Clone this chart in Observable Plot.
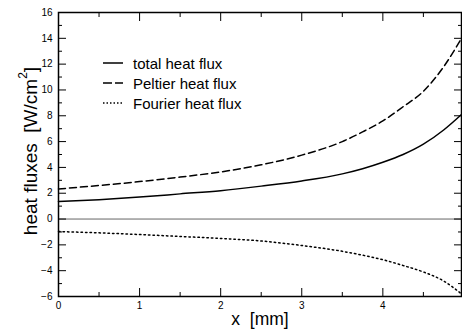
<!DOCTYPE html>
<html>
<head>
<meta charset="utf-8">
<script src="https://cdn.jsdelivr.net/npm/d3@7"></script>
<script src="https://cdn.jsdelivr.net/npm/@observablehq/plot@0.6"></script>
<style>
  html, body { margin: 0; padding: 0; background: #fff; }
  #wrap { position: relative; width: 462px; height: 333px; overflow: hidden; font-family: "Liberation Sans", Arial, Helvetica, sans-serif; }
  #legend { position: absolute; left: 103px; top: 53.3px; font-size: 15px; color: #000; }
  #legend .row { display: flex; align-items: center; height: 20px; }
  #legend svg { width: 20px; height: 10px; margin-right: 10px; }
</style>
</head>
<body>
<div id="wrap"><div id="legend"></div></div>
<script>
// x positions (mm)
const xs = [0, 0.5, 1, 1.5, 2, 2.5, 3, 3.5, 3.75, 4, 4.25, 4.5, 4.75, 4.97];
// series values (W/cm^2)
const totalFlux   = [1.35, 1.5, 1.7, 1.95, 2.2, 2.55, 2.95, 3.5, 3.9, 4.4, 5.0, 5.8, 6.9, 8.1];
const peltierFlux = [2.33, 2.6, 2.9, 3.25, 3.65, 4.2, 4.95, 6.0, 6.75, 7.6, 8.7, 9.9, 11.8, 14.0];
const fourierFlux = [-0.97, -1.07, -1.2, -1.35, -1.5, -1.7, -2.05, -2.5, -2.8, -3.15, -3.6, -4.1, -4.8, -5.8];
const seriesNames = ["total heat flux", "Peltier heat flux", "Fourier heat flux"];
// tick labels
const yMajor = [-6, -4, -2, 0, 2, 4, 6, 8, 10, 12, 14, 16];
const yMinor = [-5, -3, -1, 1, 3, 5, 7, 9, 11, 13, 15];
const xMajor = [0, 1, 2, 3, 4];
const xMinor = [0.5, 1.5, 2.5, 3.5, 4.5];

const dashes = ["none", "7,4", "1.5,3"];
const legendDashes = ["none", "9,3", "1.5,2"];
const seriesVals = [totalFlux, peltierFlux, fourierFlux];
const data = seriesNames.flatMap((name, i) => xs.map((x, j) => ({x, y: seriesVals[i][j], name})));

const nb = "\u00a0";
const marks = [
  Plot.ruleY([0], {stroke: "#666", strokeWidth: 1}),
  ...seriesNames.map((name, i) => Plot.line(data.filter(d => d.name === name), {
    x: "x", y: "y", curve: "monotone-x", stroke: "#000", strokeWidth: 1.5,
    strokeDasharray: dashes[i] === "none" ? null : dashes[i]
  })),
  Plot.frame({stroke: "#000", strokeWidth: 1.5}),
];
for (const anchor of ["left", "right"]) {
  marks.push(Plot.axisY(yMajor, {anchor, tickSize: -8, tickFormat: () => "", label: null}));
  marks.push(Plot.axisY(yMinor, {anchor, tickSize: -4, tickFormat: () => "", label: null}));
}
for (const anchor of ["top", "bottom"]) {
  marks.push(Plot.axisX(xMajor, {anchor, tickSize: -8, tickFormat: () => "", label: null}));
  marks.push(Plot.axisX(xMinor, {anchor, tickSize: -4, tickFormat: () => "", label: null}));
}
marks.push(Plot.axisY(yMajor, {anchor: "left", tickSize: 0, tickPadding: 6, fontSize: 10, label: null}));
marks.push(Plot.axisX(xMajor, {anchor: "bottom", tickSize: 0, tickPadding: 5, fontSize: 10, label: null}));
marks.push(Plot.text([`heat fluxes${nb}${nb}[W/cm2]`], {frameAnchor: "left", textAnchor: "middle", dx: -27.5, dy: -3.5, rotate: -90, fontSize: 19, fill: "#000", className: "ylab"}));
marks.push(Plot.text([`x${nb}${nb}[mm]`], {frameAnchor: "bottom", dy: 28, fontSize: 17.5, fill: "#000"}));

const chart = Plot.plot({
  width: 462, height: 333,
  marginLeft: 58, marginRight: 1, marginTop: 12, marginBottom: 37,
  style: {fontFamily: "'Liberation Sans', Arial, Helvetica, sans-serif", background: "#fff", color: "#000"},
  x: {domain: [0, 4.97]},
  y: {domain: [-6, 16]},
  marks
});
const wrap = document.getElementById("wrap");
wrap.insertBefore(chart, wrap.firstChild);

// superscript for the unit in the y label
const yl = chart.querySelector(".ylab text");
if (yl) {
  const ns = "http://www.w3.org/2000/svg";
  yl.textContent = "";
  const t1 = document.createElementNS(ns, "tspan"); t1.textContent = `heat fluxes${nb}${nb}[W/cm`;
  const t2 = document.createElementNS(ns, "tspan"); t2.textContent = "2"; t2.setAttribute("font-size", "12"); t2.setAttribute("dy", "-10");
  const t3 = document.createElementNS(ns, "tspan"); t3.textContent = "]"; t3.setAttribute("dy", "10");
  yl.append(t1, t2, t3);
}

const legend = document.getElementById("legend");
seriesNames.forEach((name, i) => {
  const row = document.createElement("div");
  row.className = "row";
  const dash = legendDashes[i] === "none" ? "" : `stroke-dasharray="${legendDashes[i]}"`;
  row.innerHTML = `<svg viewBox="0 0 20 10"><line x1="0" y1="5" x2="20" y2="5" stroke="#000" stroke-width="1.5" ${dash}/></svg><span>${name}</span>`;
  legend.appendChild(row);
});
</script>
</body>
</html>
